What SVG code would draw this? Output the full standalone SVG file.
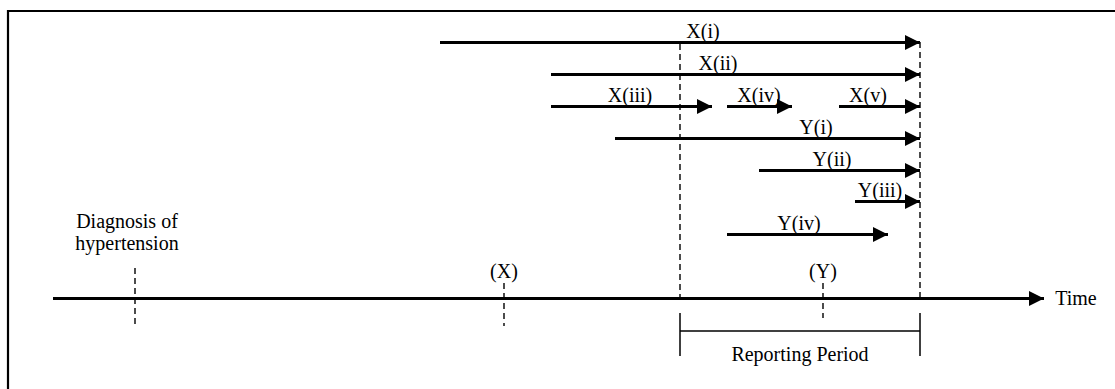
<svg xmlns="http://www.w3.org/2000/svg" width="1115" height="389" viewBox="0 0 1115 389">
<defs>
<style>
text{font-family:"Liberation Serif","Times New Roman",serif;font-size:20px;fill:#000;text-anchor:middle}
.arr{stroke:#000;stroke-width:3;fill:none;marker-end:url(#ah)}
.dash{stroke:#000;stroke-width:1.4;stroke-dasharray:6,4;fill:none}
.solid{stroke:#000;stroke-width:1.5;fill:none}
</style>
<marker id="ah" markerWidth="5" markerHeight="5" refX="5" refY="2.5" orient="auto" markerUnits="strokeWidth">
<path d="M0,0 L5,2.5 L0,5 Z" fill="#000"/>
</marker>
</defs>
<rect width="1115" height="389" fill="#fff"/>
<path d="M8,389 V11 H1115" stroke="#000" stroke-width="2.2" fill="none"/>
<g id="connectors">
<line class="dash" x1="680" y1="44" x2="680" y2="298"/>
<line class="dash" x1="920" y1="42" x2="920" y2="298"/>
<line class="arr" x1="440" y1="42.5" x2="920" y2="42.5"/>
<line class="arr" x1="551" y1="74.5" x2="920" y2="74.5"/>
<line class="arr" x1="551" y1="106.5" x2="712" y2="106.5"/>
<line class="arr" x1="727" y1="106.5" x2="792" y2="106.5"/>
<line class="arr" x1="839" y1="106.5" x2="920" y2="106.5"/>
<line class="arr" x1="615" y1="138.5" x2="920" y2="138.5"/>
<line class="arr" x1="759" y1="170.5" x2="920" y2="170.5"/>
<line class="arr" x1="855" y1="201.5" x2="920" y2="201.5"/>
<line class="arr" x1="727" y1="234.5" x2="888" y2="234.5"/>
<line class="arr" x1="53" y1="298.5" x2="1044" y2="298.5"/>
<line class="dash" x1="135" y1="268" x2="135" y2="326"/>
<line class="dash" x1="504" y1="283" x2="504" y2="326"/>
<line class="dash" x1="823" y1="283" x2="823" y2="318"/>
<line class="solid" x1="680" y1="313" x2="680" y2="356"/>
<line class="solid" x1="920" y1="313" x2="920" y2="356"/>
<line class="solid" x1="680" y1="331" x2="920" y2="331"/>
</g>
<g id="labels">
<text x="703" y="38">X(i)</text>
<text x="718" y="70">X(ii)</text>
<text x="630" y="102">X(iii)</text>
<text x="759" y="102">X(iv)</text>
<text x="868" y="102">X(v)</text>
<text x="816" y="134">Y(i)</text>
<text x="832" y="166">Y(ii)</text>
<text x="880" y="197">Y(iii)</text>
<text x="799" y="230">Y(iv)</text>
</g>
<g id="diagnosis"><text x="127" y="228">Diagnosis of</text><text x="127" y="250">hypertension</text></g>
<g id="markX"><text x="504" y="278">(X)</text></g>
<g id="markY"><text x="823" y="278">(Y)</text></g>
<g id="time"><text x="1076" y="305">Time</text></g>
<g id="reporting"><text x="800" y="361">Reporting Period</text></g>
</svg>
